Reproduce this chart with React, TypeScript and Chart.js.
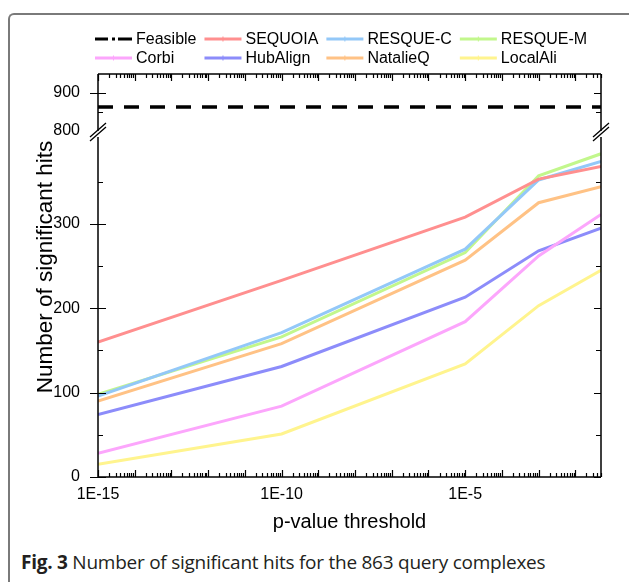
import React, { useEffect, useRef } from "react";
import { Chart, registerables } from "chart.js";

Chart.register(...registerables);

const FONT = "'Liberation Sans', Arial, Helvetica, sans-serif";

// ---- data ----
const pValues = [1e-15, 1e-10, 1e-5, 1e-3, 0.05];
const labeledExponents = [-15, -10, -5];
const feasibleValue = 863;
const sequoia = [160, 233, 308, 353, 368];
const resqueC = [96, 171, 270, 352, 374];
const resqueM = [98, 166, 266, 357, 383];
const corbi = [28, 84, 184, 262, 311];
const hubAlign = [74, 131, 213, 268, 295];
const natalieQ = [90, 158, 257, 325, 344];
const localAli = [15, 51, 134, 203, 245];
const lowTicks = [0, 100, 200, 300];
const lowMinorTicks = [50, 150, 250, 350];
const highTicks = [800, 900];
const highMinorTicks = [850];

const seriesNames = ["SEQUOIA", "RESQUE-C", "RESQUE-M", "Corbi", "HubAlign", "NatalieQ", "LocalAli"];
const seriesValues = [sequoia, resqueC, resqueM, corbi, hubAlign, natalieQ, localAli];
const seriesColors = ["#ff8f8f", "#93c8f8", "#c2f78c", "#fca6fc", "#8c8cfa", "#ffc285", "#fff48e"];

const W = 629;
const H = 540;

const decorPlugin = {
  id: "decor",
  afterDraw(chart: any) {
    const ctx = chart.ctx as CanvasRenderingContext2D;
    const a = chart.chartArea;
    const xs = chart.scales.x;
    const yl = chart.scales.yLow;
    const yh = chart.scales.yHigh;
    const L = a.left, R = a.right, T = a.top, B = a.bottom;
    const breakY = yl.top;
    ctx.save();
    ctx.strokeStyle = "#000";
    ctx.lineWidth = 1.5;
    // frame
    ctx.beginPath();
    ctx.moveTo(L, T); ctx.lineTo(R, T);
    ctx.moveTo(L, B); ctx.lineTo(R, B);
    ctx.moveTo(L, T); ctx.lineTo(L, B);
    ctx.moveTo(R, T); ctx.lineTo(R, B);
    ctx.stroke();
    // x ticks (bottom, top mirrored)
    ctx.lineWidth = 1.2;
    const minE = Math.floor(Math.log10(xs.min) + 1e-9);
    const maxV = xs.max;
    ctx.beginPath();
    for (let e = minE; e <= 0; e++) {
      for (let k = 1; k <= 9; k++) {
        const v = k * Math.pow(10, e);
        if (v < xs.min * 0.999 || v > maxV * 1.001) continue;
        const px = Math.round(xs.getPixelForValue(v)) + 0.5;
        const len = k === 1 ? 7 : 4;
        ctx.moveTo(px, B); ctx.lineTo(px, B - len);
        ctx.moveTo(px, T); ctx.lineTo(px, T + len);
      }
    }
    // y ticks
    const yTick = (scale: any, v: number, major: boolean) => {
      const py = Math.round(scale.getPixelForValue(v)) + 0.5;
      if (major) {
        ctx.moveTo(L - 8, py); ctx.lineTo(L + 8, py);
        ctx.moveTo(R, py); ctx.lineTo(R - 7, py);
      } else {
        ctx.moveTo(L, py); ctx.lineTo(L + 5, py);
        ctx.moveTo(R, py); ctx.lineTo(R - 5, py);
      }
    };
    lowTicks.forEach((v) => yTick(yl, v, true));
    lowMinorTicks.forEach((v) => yTick(yl, v, false));
    highTicks.filter((v) => v > yh.min).forEach((v) => yTick(yh, v, true));
    highMinorTicks.forEach((v) => yTick(yh, v, false));
    ctx.stroke();
    // axis breaks
    const by = breakY + 3;
    [L, R].forEach((x0) => {
      ctx.fillStyle = "#fff";
      ctx.fillRect(x0 - 2, by - 3, 4, 6);
      ctx.beginPath();
      ctx.lineWidth = 1.3;
      ctx.moveTo(x0 - 8, by + 1 + 6); ctx.lineTo(x0 + 8, by + 1 - 8);
      ctx.moveTo(x0 - 8, by - 3 + 6); ctx.lineTo(x0 + 8, by - 3 - 8);
      ctx.stroke();
    });
    // axis titles
    ctx.fillStyle = "#000";
    ctx.font = `20px ${FONT}`;
    ctx.textAlign = "center";
    ctx.textBaseline = "middle";
    ctx.fillText("p-value threshold", (L + R) / 2, 522);
    ctx.save();
    ctx.translate(46, 267);
    ctx.rotate(-Math.PI / 2);
    ctx.font = `22.5px ${FONT}`;
    ctx.fillText("Number of significant hits", 0, 0);
    ctx.restore();
    // legend
    const ds = chart.data.datasets;
    const cols = 4;
    const rowsY = [39, 58];
    const lineLen = 37;
    ctx.font = `16px ${FONT}`;
    const colWidths: number[] = [];
    ds.forEach((d: any, i: number) => {
      const c = i % cols;
      const w = ctx.measureText(d.label).width;
      colWidths[c] = Math.max(colWidths[c] || 0, w);
    });
    const colX: number[] = [];
    let cx = 95;
    for (let c = 0; c < cols; c++) {
      colX.push(cx);
      cx += lineLen + 4 + colWidths[c] + 8;
    }
    ds.forEach((d: any, i: number) => {
      const c = i % cols;
      const r = Math.floor(i / cols);
      const x = colX[c];
      const y = rowsY[r];
      ctx.save();
      ctx.strokeStyle = d.borderColor;
      ctx.lineWidth = 3;
      ctx.lineCap = "butt";
      if (d.legendDash) ctx.setLineDash(d.legendDash);
      ctx.beginPath();
      ctx.moveTo(x, y); ctx.lineTo(x + lineLen, y);
      ctx.stroke();
      ctx.setLineDash([]);
      if (!d.legendDash) {
        ctx.lineWidth = 1;
        ctx.beginPath();
        ctx.moveTo(x + lineLen / 2, y - 2.5); ctx.lineTo(x + lineLen / 2, y + 2.5);
        ctx.stroke();
      }
      ctx.restore();
      ctx.fillStyle = "#000";
      ctx.textAlign = "left";
      ctx.textBaseline = "middle";
      ctx.fillText(d.label, x + lineLen + 4, y + 1);
    });
    ctx.restore();
  },
};

function ChartView() {
  const ref = useRef<HTMLCanvasElement | null>(null);
  useEffect(() => {
    if (!ref.current) return;
    const datasets: any[] = [
      {
        label: "Feasible",
        data: [
          { x: pValues[0], y: feasibleValue },
          { x: pValues[pValues.length - 1], y: feasibleValue },
        ],
        yAxisID: "yHigh",
        borderColor: "#000",
        borderWidth: 3.5,
        borderDash: [15, 11],
        legendDash: [13, 4, 3, 3, 14],
        pointRadius: 0,
        order: 0,
      },
      ...seriesNames.map((name, i) => ({
        label: name,
        data: pValues.map((p, j) => ({ x: p, y: seriesValues[i][j] })),
        yAxisID: "yLow",
        borderColor: seriesColors[i],
        borderWidth: 3,
        pointRadius: 0,
        tension: 0,
        order: i + 1,
      })),
    ];
    const tickFont = { family: FONT, size: 16 };
    const chart = new Chart(ref.current, {
      type: "line",
      data: { datasets },
      plugins: [decorPlugin],
      options: {
        animation: false,
        responsive: false,
        maintainAspectRatio: false,
        layout: { padding: { left: 0, right: 28, top: 74, bottom: 23 } },
        plugins: { legend: { display: false }, tooltip: { enabled: false } },
        scales: {
          x: {
            type: "logarithmic",
            min: pValues[0],
            max: pValues[pValues.length - 1],
            grid: { display: false },
            border: { display: false },
            afterBuildTicks: (s: any) => {
              s.ticks = labeledExponents.map((e) => ({ value: Math.pow(10, e) }));
            },
            afterFit: (s: any) => { s.height = 40; },
            ticks: {
              autoSkip: false,
              maxRotation: 0,
              padding: 0,
              color: "#000",
              font: tickFont,
              callback: (v: any) => `1E${Math.round(Math.log10(Number(v)))}`,
            },
          },
          yLow: {
            type: "linear",
            position: "left",
            stack: "y",
            stackWeight: 346,
            min: 0,
            max: 410,
            grid: { display: false },
            border: { display: false },
            afterBuildTicks: (s: any) => { s.ticks = lowTicks.map((v) => ({ value: v })); },
            afterFit: (s: any) => { s.width = 98; },
            ticks: { padding: 10, color: "#000", font: tickFont },
          },
          yHigh: {
            type: "linear",
            position: "left",
            stack: "y",
            stackWeight: 57,
            min: 800,
            max: 950,
            grid: { display: false },
            border: { display: false },
            afterBuildTicks: (s: any) => { s.ticks = highTicks.map((v) => ({ value: v })); },
            afterFit: (s: any) => { s.width = 98; },
            ticks: { padding: 10, color: "#000", font: tickFont },
          },
        },
      } as any,
    });
    return () => chart.destroy();
  }, []);
  return <canvas ref={ref} width={W} height={H} style={{ position: "absolute", left: 0, top: 0, width: W, height: H }} />;
}

export default function App() {
  return (
    <div style={{ position: "fixed", left: 0, top: 0, width: 629, height: 582, background: "#fff", overflow: "hidden" }}>
      <div
        style={{
          position: "absolute",
          left: 8,
          top: 13,
          width: 640,
          height: 600,
          borderTop: "2px solid #7a7a7a",
          borderLeft: "2px solid #7a7a7a",
          borderTopLeftRadius: 6,
        }}
      />
      <ChartView />
      <div
        style={{
          position: "absolute",
          left: 21,
          top: 549,
          fontFamily: "'Open Sans', 'Noto Sans', sans-serif",
          fontSize: 19,
          lineHeight: "26px",
          color: "#231f20",
          whiteSpace: "nowrap",
          letterSpacing: -0.25,
        }}
      >
        <b>Fig. 3</b> Number of significant hits for the 863 query complexes
      </div>
    </div>
  );
}
